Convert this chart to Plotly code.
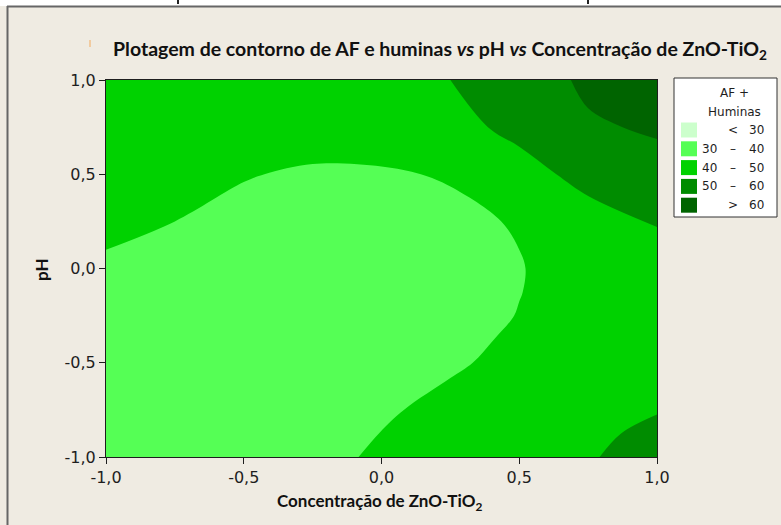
import plotly.graph_objects as go

# ---- data -------------------------------------------------------------
conc = [-1.0, -0.75, -0.5, -0.25, 0.0, 0.25, 0.5, 0.75, 1.0]   # ZnO-TiO2 (coded)
ph = [-1.0, -0.875, -0.75, -0.5, -0.375, -0.25, -0.125, 0.0, 0.25, 0.5, 0.75, 1.0]  # pH (coded)

# AF + huminas response; one row per pH level (bottom to top), one column per concentration
af_huminas = [
    [38.0, 37.0, 36.5, 37.0, 41.5, 44.5, 47.0, 49.5, 52.5],          # pH -1,000
    [37.75, 36.65, 36.05, 36.6, 40.15, 43.5, 46.1, 48.9, 51.2],      # pH -0,875
    [37.5, 36.3, 35.6, 36.2, 38.8, 42.5, 45.2, 47.6, 49.7],          # pH -0,750
    [37.5, 36.0, 35.0, 34.6, 35.3, 38.8, 42.5, 45.5, 47.5],          # pH -0,500
    [37.75, 36.25, 35.1, 34.55, 35.05, 37.55, 41.4, 44.5, 47.25],    # pH -0,375
    [38.0, 36.5, 35.2, 34.5, 34.8, 36.3, 40.3, 43.5, 47.0],          # pH -0,250
    [38.6, 37.15, 35.85, 35.15, 35.3, 36.55, 39.8, 43.75, 47.75],    # pH -0,125
    [39.2, 37.8, 36.5, 35.8, 35.8, 36.8, 39.6, 44.0, 48.5],          # pH  0,000
    [41.2, 40.0, 38.5, 37.5, 37.0, 38.3, 40.6, 46.5, 50.2],          # pH  0,250
    [42.0, 41.0, 40.3, 39.3, 39.2, 40.6, 46.5, 53.0, 57.0],          # pH  0,500
    [44.0, 43.0, 42.5, 42.5, 44.0, 47.0, 52.5, 59.0, 61.0],          # pH  0,750
    [46.0, 45.0, 44.5, 45.0, 46.5, 50.0, 55.5, 61.5, 68.0],          # pH  1,000
]

levels = [30, 40, 50, 60]
band_colors = ["#CCFFCC", "#55FF55", "#00D200", "#008C00", "#006400"]
band_lo = ["", "30", "40", "50", ""]
band_sym = ["<", "\u2013", "\u2013", "\u2013", ">"]
band_hi = ["30", "40", "50", "60", "60"]

tick_vals = [-1.0, -0.5, 0.0, 0.5, 1.0]
tick_text = ["-1,0", "-0,5", "0,0", "0,5", "1,0"]

# ---- page geometry (pixels) --------------------------------------------
W, H = 781, 525
L, R, T, B = 106, 657, 80, 457
BG = "#EFEBE2"
INK = "#1E1E1E"


def fx(p):
    return (p - L) / (R - L)


def fy(p):
    return (B - p) / (B - T)


step = levels[1] - levels[0]
fig = go.Figure(
    go.Contour(
        x=conc,
        y=ph,
        z=af_huminas,
        contours=dict(start=levels[0], end=levels[-1], size=step,
                      coloring="fill", showlines=False),
        line=dict(width=0, smoothing=1.0),
        colorscale=[[i / (len(band_colors) - 1), c] for i, c in enumerate(band_colors)],
        showscale=False,
        hoverinfo="skip",
    )
)

axis_common = dict(
    range=[-1, 1], tickvals=tick_vals, ticktext=tick_text,
    showline=True, mirror=True, linecolor=INK, linewidth=1,
    ticks="outside", ticklen=6, tickcolor=INK, tickwidth=1,
    tickfont=dict(family="DejaVu Sans", size=16, color=INK),
    showgrid=False, zeroline=False,
)

shapes = []
annotations = []

# white strip and frame around the page
shapes.append(dict(type="rect", xref="paper", yref="paper",
                   x0=fx(0), x1=fx(W), y0=fy(6), y1=fy(0),
                   fillcolor="white", line=dict(width=0), layer="below"))
shapes.append(dict(type="line", xref="paper", yref="paper",
                   x0=fx(7.5), x1=fx(7.5), y0=fy(6), y1=fy(H),
                   line=dict(color="#666666", width=2)))
shapes.append(dict(type="line", xref="paper", yref="paper",
                   x0=fx(7), x1=fx(W), y0=fy(6.5), y1=fy(6.5),
                   line=dict(color="#666666", width=2)))
for xp in (178, 588):
    shapes.append(dict(type="line", xref="paper", yref="paper",
                       x0=fx(xp), x1=fx(xp), y0=fy(0), y1=fy(4),
                       line=dict(color="#222222", width=2)))
shapes.append(dict(type="line", xref="paper", yref="paper",
                   x0=fx(90), x1=fx(90), y0=fy(40), y1=fy(47),
                   line=dict(color="#F2C08A", width=1.5)))

# titles
annotations.append(dict(
    text="Plotagem de contorno de AF e huminas <i>vs</i> pH <i>vs</i> Concentração de ZnO-TiO<sub>2</sub>",
    xref="paper", yref="paper", x=fx(440), y=fy(50), xanchor="center", yanchor="middle",
    showarrow=False, font=dict(family="Lato", size=19.5, color="#111111", weight="bold")))
annotations.append(dict(
    text="Concentração de ZnO-TiO<sub>2</sub>",
    xref="paper", yref="paper", x=fx(379), y=fy(502), xanchor="center", yanchor="middle",
    showarrow=False, font=dict(family="Lato", size=17, color="#111111", weight="bold")))
annotations.append(dict(
    text="pH", textangle=-90,
    xref="paper", yref="paper", x=fx(41), y=fy(270), xanchor="center", yanchor="middle",
    showarrow=False, font=dict(family="Lato", size=17, color="#111111", weight="bold")))

# legend box
shapes.append(dict(type="rect", xref="paper", yref="paper",
                   x0=fx(674), x1=fx(777), y0=fy(217), y1=fy(78),
                   fillcolor="white", line=dict(color="#333333", width=1)))
leg_font = dict(family="DejaVu Sans", size=12, color=INK)
annotations.append(dict(text="AF +", xref="paper", yref="paper", x=fx(734), y=fy(93),
                        xanchor="center", yanchor="middle", showarrow=False, font=leg_font))
annotations.append(dict(text="Huminas", xref="paper", yref="paper", x=fx(734), y=fy(112),
                        xanchor="center", yanchor="middle", showarrow=False, font=leg_font))
for i, col in enumerate(band_colors):
    yc = 130 + i * 18.8
    shapes.append(dict(type="rect", xref="paper", yref="paper",
                       x0=fx(681), x1=fx(697), y0=fy(yc + 7.5), y1=fy(yc - 7.5),
                       fillcolor=col, line=dict(width=0)))
    if band_lo[i]:
        annotations.append(dict(text=band_lo[i], xref="paper", yref="paper", x=fx(719), y=fy(yc),
                                xanchor="right", yanchor="middle", showarrow=False, font=leg_font))
    annotations.append(dict(text=band_sym[i], xref="paper", yref="paper", x=fx(733), y=fy(yc),
                            xanchor="center", yanchor="middle", showarrow=False, font=leg_font))
    annotations.append(dict(text=band_hi[i], xref="paper", yref="paper", x=fx(766), y=fy(yc),
                            xanchor="right", yanchor="middle", showarrow=False, font=leg_font))

fig.update_layout(
    width=W, height=H,
    margin=dict(l=L, r=W - R, t=T, b=H - B, pad=0),
    paper_bgcolor=BG, plot_bgcolor=BG,
    xaxis=axis_common, yaxis=axis_common,
    shapes=shapes, annotations=annotations,
    showlegend=False,
)

fig.write_html("out.html")
